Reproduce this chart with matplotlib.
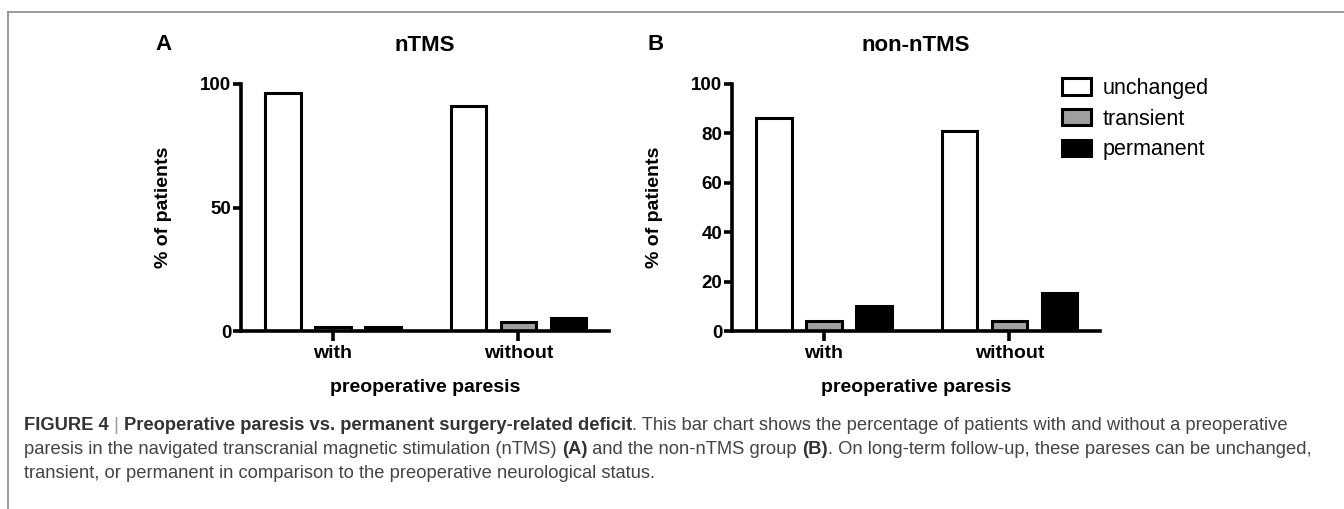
import matplotlib
matplotlib.use('Agg')
import matplotlib.pyplot as plt
from matplotlib.lines import Line2D
import numpy as np

plt.rcParams['font.family'] = ['Liberation Sans', 'DejaVu Sans']

# dados
groups = ['with', 'without']
series = ['unchanged', 'transient', 'permanent']
colors = ['white', '#a0a0a0', 'black']

ntms_unchanged = [96.5, 91.0]
ntms_transient = [1.6, 3.5]
ntms_permanent = [1.6, 5.4]

non_unchanged = [86.4, 81.0]
non_transient = [4.0, 4.0]
non_permanent = [10.0, 15.4]

ntms_ticks = [0, 50, 100]
non_ticks = [0, 20, 40, 60, 80, 100]

W, H = 1344, 509
fig = plt.figure(figsize=(W / 100, H / 100), dpi=100)


def px(x0, y0, x1, y1):
    # converte pixels (topo-esquerda) em fracoes da figura
    return [x0 / W, 1 - y1 / H, (x1 - x0) / W, (y1 - y0) / H]


def painel(rect, data, ticks, letra, titulo, lx):
    ax = fig.add_axes(rect)
    off = 0.27
    width = 0.19
    x = np.arange(len(groups))
    for i, vals in enumerate(data):
        ax.bar(x + (i - 1) * off, vals, width, color=colors[i], edgecolor='black',
               linewidth=2.2, label=series[i])
    ax.set_xlim(-0.497, 1.49)
    ax.set_ylim(0, 100)
    ax.set_yticks(ticks)
    ax.set_xticks(x)
    ax.set_xticklabels(groups)
    for s in ['top', 'right']:
        ax.spines[s].set_visible(False)
    for s in ['left', 'bottom']:
        ax.spines[s].set_linewidth(2.6)
        ax.spines[s].set_capstyle('projecting')
    ax.tick_params(axis='y', length=6, width=2.6, labelsize=13.5, pad=1)
    ax.tick_params(axis='x', length=7, width=2.6, labelsize=14, pad=3)
    for t in ax.get_xticklabels() + ax.get_yticklabels():
        t.set_fontweight('bold')
    ax.set_ylabel('% of patients', fontsize=14, fontweight='bold', labelpad=20)
    ax.set_xlabel('preoperative paresis', fontsize=14, fontweight='bold', labelpad=12)
    ax.set_title(titulo, fontsize=16, fontweight='bold', pad=0, y=1.135)
    fig.text(lx / W, 1 - 44 / H, letra, fontsize=16, fontweight='bold',
             ha='center', va='center')
    return ax


axA = painel(px(241, 84, 609, 331), [ntms_unchanged, ntms_transient, ntms_permanent],
             ntms_ticks, 'A', 'nTMS', 164)
axB = painel(px(732, 84, 1100, 331), [non_unchanged, non_transient, non_permanent],
             non_ticks, 'B', 'non-nTMS', 656)

h, l = axB.get_legend_handles_labels()
fig.legend(h, l, loc='upper left', bbox_to_anchor=(1062 / W, 1 - 78 / H),
           frameon=False, fontsize=15.5, borderpad=0, borderaxespad=0,
           handlelength=1.35, handleheight=0.8, handletextpad=0.55, labelspacing=0.45)

# moldura cinza (topo e esquerda)
fig.add_artist(Line2D([8 / W, 1], [1 - 12 / H, 1 - 12 / H], color='#8a8a8a', lw=1.2))
fig.add_artist(Line2D([8 / W, 8 / W], [0, 1 - 12 / H], color='#8a8a8a', lw=1.2))

# legenda da figura com trechos em negrito
linhas = [
    [('FIGURE 4', 'bold', '#333333'), (' | ', 'normal', '#999999'),
     ('Preoperative paresis vs. permanent surgery-related deficit', 'bold', '#333333'),
     ('. This bar chart shows the percentage of patients with and without a preoperative',
      'normal', '#444444')],
    [('paresis in the navigated transcranial magnetic stimulation (nTMS) ', 'normal', '#444444'),
     ('(A)', 'bold', '#333333'), (' and the non-nTMS group ', 'normal', '#444444'),
     ('(B)', 'bold', '#333333'),
     ('. On long-term follow-up, these pareses can be unchanged,', 'normal', '#444444')],
    [('transient, or permanent in comparison to the preoperative neurological status.',
      'normal', '#444444')],
]
fig.canvas.draw()
r = fig.canvas.get_renderer()
ys = [426, 450, 473]
for linha, yy in zip(linhas, ys):
    xx = 24
    for txt, peso, cor in linha:
        t = fig.text(xx / W, 1 - yy / H, txt, fontsize=13.2, fontweight=peso,
                     color=cor, va='center', ha='left')
        bb = t.get_window_extent(r)
        xx += bb.width

fig.savefig('out.png', dpi=100)
